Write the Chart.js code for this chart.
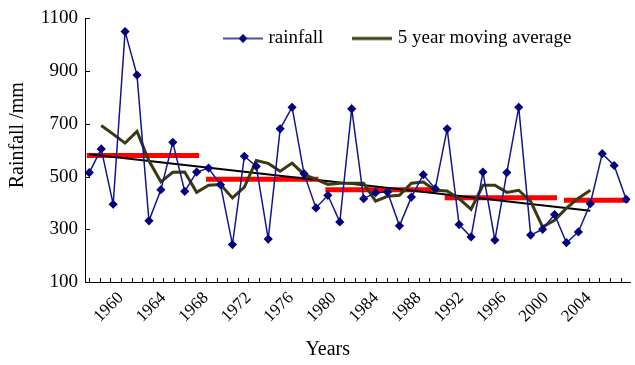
<!DOCTYPE html>
<html>
<head>
<meta charset="utf-8">
<title>Rainfall</title>
<script src="https://cdn.jsdelivr.net/npm/chart.js@4.4.0/dist/chart.umd.min.js"></script>
<style>
    body { margin: 0; background: #fff; }
    #wrap { width: 635px; height: 365px; }
</style>
</head>
<body>
<div id="wrap"><canvas id="rain-chart" width="635" height="365"></canvas></div>
<script>
// annual rainfall, mm
const years = [1960, 1961, 1962, 1963, 1964, 1965, 1966, 1967, 1968, 1969,
               1970, 1971, 1972, 1973, 1974, 1975, 1976, 1977, 1978, 1979,
               1980, 1981, 1982, 1983, 1984, 1985, 1986, 1987, 1988, 1989,
               1990, 1991, 1992, 1993, 1994, 1995, 1996, 1997, 1998, 1999,
               2000, 2001, 2002, 2003, 2004, 2005];
const rainfall = [515, 605, 395, 1050, 885, 332, 450, 630, 444, 517,
                  532, 469, 242, 577, 539, 263, 681, 763, 511, 381,
                  429, 328, 757, 416, 439, 441, 313, 422, 507, 454,
                  681, 318, 271, 517, 259, 515, 763, 278, 300, 356,
                  249, 290, 397, 587, 542, 414];

// 5 year moving average, 1961 - 2002
const maYears = years.slice(1, 43);
const movingAverage = [694, 661, 627, 671, 560, 480, 516, 517, 440,
                       467, 470, 419, 460, 561, 550, 520, 551, 508, 489,
                       470, 475, 475, 475, 407, 425, 429, 475, 479, 448,
                       445, 416, 376, 467, 467, 440, 448, 406, 309, 334,
                       380, 418, 448];

// linear trend
const trendYears = [1960, 2002];
const trendValues = [585, 370];

// decadal means
const decadeStart = [1960, 1970, 1980, 1990, 2000];
const decadeEnd = [1969, 1979, 1989, 1999, 2005];
const decadeMean = [580, 490, 450, 420, 410];

// axis labels
const yTicks = [100, 300, 500, 700, 900, 1100];
const yearLabels = [1960, 1964, 1968, 1972, 1976, 1980, 1984, 1988, 1992, 1996, 2000, 2004];

const FONT = '"Liberation Serif", "Times New Roman", serif';
const NBSP = '\u00a0';

function makeIcon(color, width, withMarker) {
    const c = document.createElement('canvas');
    c.width = 40;
    c.height = 12;
    const g = c.getContext('2d');
    g.strokeStyle = color;
    g.lineWidth = width;
    g.beginPath();
    g.moveTo(0, 6);
    g.lineTo(40, 6);
    g.stroke();
    if (withMarker) {
        g.fillStyle = '#000080';
        g.beginPath();
        g.moveTo(20, 1.5);
        g.lineTo(24.5, 6);
        g.lineTo(20, 10.5);
        g.lineTo(15.5, 6);
        g.closePath();
        g.fill();
    }
    return c;
}

const rainIcon = makeIcon('#14148f', 1.5, true);
const maIcon = makeIcon('#3a3a12', 3, false);

const datasets = [{
    label: 'rainfall',
    data: years.map((yr, i) => ({ x: yr, y: rainfall[i] })),
    borderColor: '#14148f',
    borderWidth: 1.5,
    pointStyle: 'rectRot',
    pointRadius: 4.6,
    pointBackgroundColor: '#000080',
    pointBorderColor: '#000080',
    pointBorderWidth: 0,
    tension: 0,
    order: 0
}, {
    label: '5 year moving average',
    data: maYears.map((yr, i) => ({ x: yr, y: movingAverage[i] })),
    borderColor: '#3a3a12',
    borderWidth: 3,
    pointRadius: 0,
    tension: 0,
    order: 1
}, {
    label: 'trend',
    data: trendYears.map((yr, i) => ({ x: yr, y: trendValues[i] })),
    borderColor: '#000',
    borderWidth: 2,
    pointRadius: 0,
    order: 2
}];

decadeMean.forEach(function (m, i) {
    datasets.push({
        label: 'decade ' + decadeStart[i],
        data: [{ x: decadeStart[i], y: m }, { x: decadeEnd[i], y: m }],
        borderColor: '#ff0000',
        borderWidth: 5,
        borderCapStyle: 'square',
        pointRadius: 0,
        order: 3
    });
});

// ticks point inwards, as in the original figure
const innerTicks = {
    id: 'innerTicks',
    beforeDatasetsDraw(chart) {
        const { ctx, chartArea } = chart;
        const ys = chart.scales.y;
        const xs = chart.scales.xl;
        ctx.save();
        ctx.strokeStyle = '#000';
        ctx.lineWidth = 1;
        ctx.beginPath();
        ys.ticks.forEach(function (t, i) {
            const py = Math.round(ys.getPixelForTick(i)) + 0.5;
            ctx.moveTo(chartArea.left, py);
            ctx.lineTo(chartArea.left + 5, py);
        });
        xs.ticks.forEach(function (t, i) {
            const px = Math.round(xs.getPixelForTick(i)) + 0.5;
            ctx.moveTo(px, chartArea.bottom);
            ctx.lineTo(px, chartArea.bottom - 4);
        });
        ctx.stroke();
        ctx.restore();
    }
};

// legend sits inside the plot, near the top, and takes no layout space
const legendInside = {
    id: 'legendInside',
    beforeLayout(chart) {
        const lg = chart.legend;
        if (lg && !lg._inside) {
            const fit = lg.fit;
            lg.fit = function () {
                fit.call(this);
                this._fullHeight = this.height;
                this.height = 0;
            };
            lg._inside = true;
        }
    },
    afterLayout(chart) {
        const lg = chart.legend;
        if (!lg) return;
        lg.height = lg._fullHeight;
        lg.top = -4;
        lg.bottom = lg.top + lg.height;
        lg.left = 194;
        lg.right = 635;
    }
};

new Chart(document.getElementById('rain-chart'), {
    type: 'line',
    data: { datasets: datasets },
    plugins: [innerTicks, legendInside],
    options: {
        responsive: false,
        animation: false,
        layout: { padding: { top: 17, right: 3, left: 0, bottom: 0 } },
        plugins: {
            tooltip: { enabled: false },
            legend: {
                position: 'top',
                align: 'start',
                labels: {
                    usePointStyle: true,
                    pointStyleWidth: 32,
                    boxHeight: 12,
                    padding: 33,
                    color: '#000',
                    font: { family: FONT, size: 19 },
                    generateLabels: function () {
                        return [
                            { text: 'rainfall', pointStyle: rainIcon, fillStyle: 'transparent', strokeStyle: 'transparent', lineWidth: 0, hidden: false, datasetIndex: 0 },
                            { text: '5 year moving average', pointStyle: maIcon, fillStyle: 'transparent', strokeStyle: 'transparent', lineWidth: 0, hidden: false, datasetIndex: 1 }
                        ];
                    }
                }
            }
        },
        scales: {
            x: {
                type: 'linear',
                display: false,
                min: 1959.64,
                max: 2005.36
            },
            xl: {
                type: 'linear',
                position: 'bottom',
                min: 1956.62,
                max: 2007.93,
                grid: { display: false, drawTicks: false },
                border: { display: true, color: '#000', width: 1 },
                ticks: {
                    stepSize: 1,
                    autoSkip: false,
                    includeBounds: false,
                    minRotation: 45,
                    maxRotation: 45,
                    padding: 6,
                    color: '#000',
                    font: { family: FONT, size: 17 },
                    callback: function (v) {
                        return yearLabels.includes(v) ? String(v) : '';
                    }
                },
                title: {
                    display: true,
                    text: 'Years' + NBSP.repeat(12),
                    color: '#000',
                    font: { family: FONT, size: 20 },
                    padding: { top: 0, bottom: 3 }
                },
                afterFit: function (scale) {
                    scale.height = 83;
                    scale.paddingLeft = 0;
                    scale.paddingRight = 0;
                }
            },
            y: {
                min: 100,
                max: 1100,
                grid: { display: false, drawTicks: false },
                border: { display: true, color: '#000', width: 1 },
                afterBuildTicks: function (scale) {
                    scale.ticks = yTicks.map(v => ({ value: v }));
                },
                ticks: {
                    padding: 7,
                    color: '#000',
                    font: { family: FONT, size: 19 },
                    callback: function (v) { return String(v); }
                },
                title: {
                    display: true,
                    text: NBSP.repeat(6) + 'Rainfall /mm',
                    color: '#000',
                    font: { family: FONT, size: 20 },
                    padding: { top: 6, bottom: 0 }
                },
                afterFit: function (scale) { scale.width = 85; }
            }
        }
    }
});
</script>
</body>
</html>
